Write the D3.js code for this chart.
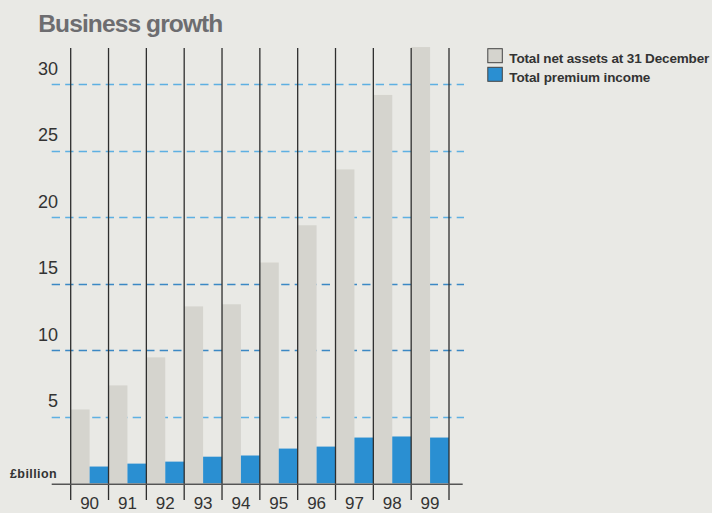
<!DOCTYPE html>
<html><head><meta charset="utf-8">
<script src="https://cdn.jsdelivr.net/npm/d3@7"></script>
<style>html,body{margin:0;padding:0;background:#e9e9e5;} svg{display:block}</style>
</head><body><svg id="c" width="712" height="513"></svg>
<script>
const years = ["90","91","92","93","94","95","96","97","98","99"];
const netAssets = [5.55, 7.36, 9.47, 13.3, 13.46, 16.6, 19.4, 23.6, 29.2, 32.8];
const premiumIncome = [1.26, 1.48, 1.63, 2.0, 2.09, 2.61, 2.76, 3.44, 3.52, 3.44];
const yTicks = [5, 10, 15, 20, 25, 30];
const seriesNames = ["Total net assets at 31 December", "Total premium income"];
const titleText = "Business growth";
const unitText = "£billion";

const svg = d3.select("#c");
const FONT = "'Liberation Sans', Arial, Helvetica, sans-serif";
const colGrey = "#d5d4ce", colBlue = "#2a8fd2";

const x = d3.scaleBand().domain(years).range([70.7, 449]).padding(0);
const y = d3.scaleLinear().domain([0, 30]).range([483.3, 84.3]);
const bw = x.bandwidth();

function fit(sel, target) {
  sel.each(function() {
    const n = this.getNumberOfChars();
    const w = this.getComputedTextLength();
    if (n > 1) d3.select(this).attr("letter-spacing", ((target - w) / (n - 1)).toFixed(3));
  });
}

// gridlines
svg.append("g").selectAll("line").data(yTicks).join("line")
  .attr("x1", 51.7).attr("x2", 464)
  .attr("y1", d => Math.round(y(d)) + 0.5).attr("y2", d => Math.round(y(d)) + 0.5)
  .attr("stroke", d => (d === 10 || d === 15) ? "#3b88c4" : "#5eb0e2")
  .attr("stroke-width", 1.5)
  .attr("stroke-dasharray", "8.3,5.2");

// bars
const g = svg.append("g");
g.selectAll("rect.na").data(years).join("rect").attr("class", "na")
  .attr("x", d => x(d)).attr("width", bw / 2)
  .attr("y", (d, i) => y(netAssets[i])).attr("height", (d, i) => y(0) - y(netAssets[i]))
  .attr("fill", colGrey);
g.selectAll("rect.pi").data(years).join("rect").attr("class", "pi")
  .attr("x", d => x(d) + bw / 2).attr("width", bw / 2)
  .attr("y", (d, i) => y(premiumIncome[i])).attr("height", (d, i) => y(0) - y(premiumIncome[i]))
  .attr("fill", colBlue);

// vertical divider lines
const divs = years.map(d => x(d)).concat([x.range()[1]]);
svg.append("g").selectAll("line").data(divs).join("line")
  .attr("x1", d => d).attr("x2", d => d)
  .attr("y1", 48).attr("y2", 500)
  .attr("stroke", "#2e2e2e").attr("stroke-width", 1.3);

// baseline axis
svg.append("line").attr("x1", 51.7).attr("x2", 462.7)
  .attr("y1", 484.3).attr("y2", 484.3)
  .attr("stroke", "#555").attr("stroke-width", 1.5);

// y labels
svg.append("g").selectAll("text").data(yTicks).join("text")
  .attr("x", 58).attr("y", d => y(d) - 9.8)
  .attr("text-anchor", "end")
  .attr("font-family", FONT).attr("font-size", 18).attr("fill", "#333")
  .text(d => d);

// x labels
svg.append("g").selectAll("text").data(years).join("text")
  .attr("x", d => x(d) + bw / 2).attr("y", 509)
  .attr("text-anchor", "middle")
  .attr("font-family", FONT).attr("font-size", 17).attr("fill", "#333")
  .text(d => d);

// unit label
svg.append("text").attr("x", 10).attr("y", 477.7)
  .attr("font-family", FONT).attr("font-size", 12.5).attr("font-weight", "bold").attr("fill", "#333")
  .text(unitText).call(fit, 46.7);

// title
svg.append("text").attr("x", 38.3).attr("y", 31.7)
  .attr("font-family", FONT).attr("font-size", 24.5).attr("font-weight", "bold").attr("fill", "#6d6d70")
  .text(titleText).call(fit, 185);

// legend
const leg = svg.append("g");
const legCols = [colGrey, colBlue];
const legWidths = [200, 141];
seriesNames.forEach((name, i) => {
  const yy = 48.7 + i * 18.6;
  leg.append("rect").attr("x", 487.8).attr("y", yy).attr("width", 14.5).attr("height", 14)
    .attr("fill", legCols[i]).attr("stroke", "#444").attr("stroke-width", 1);
  leg.append("text").attr("x", 509.3).attr("y", yy + 14.6)
    .attr("font-family", FONT).attr("font-size", 13.5).attr("font-weight", "bold").attr("fill", "#333")
    .text(name).call(fit, legWidths[i]);
});
</script>
</body></html>
